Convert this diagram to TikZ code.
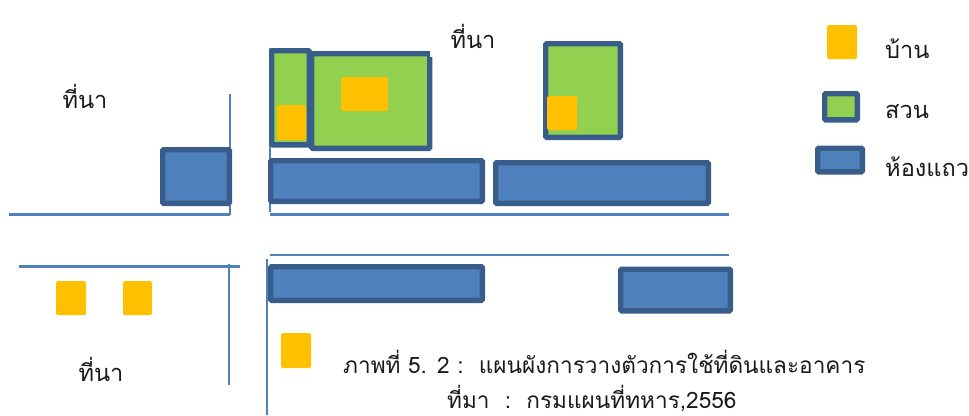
\documentclass[tikz,border=0pt]{standalone}
\usepackage{fontspec}
\setmainfont[Script=Thai]{Loma}
\definecolor{rowfill}{HTML}{4F81BD}
\definecolor{rowedge}{HTML}{385D8A}
\definecolor{gardenfill}{HTML}{92D050}
\definecolor{housefill}{HTML}{FFC000}
\definecolor{roadline}{HTML}{4F81BD}
\definecolor{ink}{HTML}{1A1A1A}
\tikzset{
  rowbox/.style={draw=rowedge,fill=rowfill,line width=5.4pt,rounded corners=1pt},
  gardenbox/.style={draw=rowedge,fill=gardenfill,line width=5.4pt,rounded corners=1pt},
  housebox/.style={fill=housefill,rounded corners=1.5pt},
  road/.style={draw=roadline,line width=2.2pt},
  label/.style={text=ink,font=\fontsize{23.6}{23.6}\selectfont,inner sep=0pt},
  caption/.style={text=ink,font=\fontsize{22.6}{22.6}\selectfont,inner sep=0pt}
}
\begin{document}
\begin{tikzpicture}[x=1pt,y=-1pt]
\useasboundingbox (0,0) rectangle (969,415);
% roads
\draw[road] (230,94) -- (230,214.5);
\draw[road] (9,214.5) -- (230,214.5);
\draw[road] (270,48) -- (270,212);
\draw[road] (270,214.5) -- (729,214.5);
\draw[road] (270,255) -- (729,255);
\draw[road] (19,266.5) -- (240,266.5);
\draw[road] (229,264) -- (229,385);
\draw[road] (267,259) -- (267,415);
% row houses
\draw[rowbox] (162.7,149.7) rectangle (229.3,203.3);
\draw[rowbox] (270.7,160.7) rectangle (482.3,201.3);
\draw[rowbox] (495.7,162.7) rectangle (708.3,203.3);
\draw[rowbox] (270.7,266.7) rectangle (482.3,300.3);
\draw[rowbox] (620.7,269.2) rectangle (730.3,310.8);
% gardens
\draw[gardenbox] (271.7,50.7) rectangle (309.3,144.8);
\draw[gardenbox] (311.7,53.7) rectangle (429.7,148.3);
\fill[white] (430.2,50) rectangle (434,56.7);
\draw[gardenbox] (545.7,43.7) rectangle (620.3,137.3);
% houses
\fill[housebox] (277,105) rectangle (306,140);
\fill[housebox] (341,77) rectangle (388,111);
\fill[housebox] (547,96) rectangle (577,130);
\fill[housebox] (56,281) rectangle (86,315);
\fill[housebox] (123,281) rectangle (152,315);
\fill[housebox] (281,333) rectangle (311,368);
% legend
\fill[housebox] (827,25) rectangle (857,59);
\draw[gardenbox] (824.7,93.7) rectangle (857.3,119.8);
\draw[rowbox] (817.7,148.2) rectangle (862.3,171.8);
% labels
\node[label] (fieldA) at (85,96) {ที่นา};
\node[label] (fieldB) at (473,36) {ที่นา};
\node[label] (fieldC) at (101,369) {ที่นา};
\node[label,anchor=west] (legA) at (885,49) {บ้าน};
\node[label,anchor=west] (legB) at (885,112) {สวน};
\node[label,anchor=west] (legC) at (885,167) {ห้องแถว};
\node[caption,anchor=west] (capA) at (343,362) {ภาพที่ 5. 2 :\ \ แผนผังการวางตัวการใช้ที่ดินและอาคาร};
\node[caption,anchor=west] (capB) at (447,398) {ที่มา\ \ :\ \ กรมแผนที่ทหาร,2556};
\end{tikzpicture}
\end{document}
